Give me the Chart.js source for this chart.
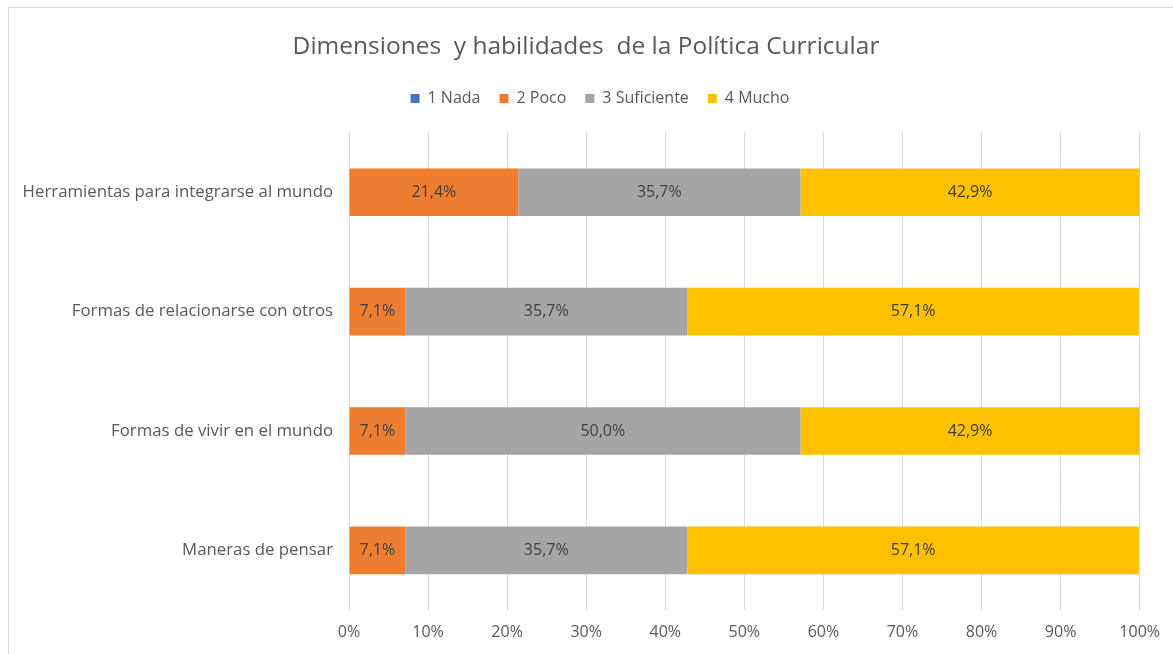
<!DOCTYPE html>
<html>
<head>
<meta charset="utf-8">
<script src="https://cdn.jsdelivr.net/npm/chart.js@4.4.1/dist/chart.umd.min.js"></script>
<style>
    html, body { margin: 0; padding: 0; background: #fff; overflow: hidden; }
    .frame {
        position: absolute; left: 8px; top: 7px; width: 1300px; height: 800px;
        border: 1px solid #d9d9d9; box-sizing: border-box;
    }
    .wrap { position: absolute; left: 0; top: 0; width: 1173px; height: 654px; }
</style>
</head>
<body>
<div class="frame"></div>
<div class="wrap"><canvas id="chart"></canvas></div>
<script>
// Chart data
const categories = [
    'Herramientas para integrarse al mundo',
    'Formas de relacionarse con otros',
    'Formas de vivir en el mundo',
    'Maneras de pensar'
];
const nada = [0, 0, 0, 0];
const poco = [21.4, 7.1, 7.1, 7.1];
const suficiente = [35.7, 35.7, 50.0, 35.7];
const mucho = [42.9, 57.1, 42.9, 57.1];
const xTicks = [0, 10, 20, 30, 40, 50, 60, 70, 80, 90, 100];

const textColor = '#595959';
const fontFamily = '"Open Sans", Lato, sans-serif';

// Value labels inside the bars
const barLabels = {
    id: 'barLabels',
    afterDatasetsDraw(chart) {
        const ctx = chart.ctx;
        ctx.save();
        ctx.font = '16px ' + fontFamily;
        ctx.fillStyle = '#404040';
        ctx.textAlign = 'center';
        ctx.textBaseline = 'middle';
        chart.data.datasets.forEach((ds, i) => {
            const meta = chart.getDatasetMeta(i);
            meta.data.forEach((bar, j) => {
                const v = ds.data[j];
                if (!v) return;
                const cx = (bar.x + bar.base) / 2;
                ctx.fillText(v.toFixed(1).replace('.', ',') + '%', cx, bar.y);
            });
        });
        ctx.restore();
    }
};

// Legend sits a little right of the centre in the original
const legendShift = {
    id: 'legendShift',
    afterLayout(chart) {
        chart.legend.left += 14;
        chart.legend.right += 14;
    }
};

const ctx = document.getElementById('chart').getContext('2d');
new Chart(ctx, {
    type: 'bar',
    data: {
        labels: categories,
        datasets: [
            { label: '1 Nada', data: nada, backgroundColor: '#4472C4' },
            { label: '2 Poco', data: poco, backgroundColor: '#ED7D31' },
            { label: '3 Suficiente', data: suficiente, backgroundColor: '#A5A5A5' },
            { label: '4 Mucho', data: mucho, backgroundColor: '#FFC000' }
        ]
    },
    options: {
        indexAxis: 'y',
        responsive: true,
        maintainAspectRatio: false,
        animation: false,
        barPercentage: 0.6,
        categoryPercentage: 0.665,
        layout: { padding: { left: 16, right: 17, top: 0, bottom: 0 } },
        plugins: {
            title: {
                display: true,
                text: 'Dimensiones  y habilidades  de la Política Curricular',
                color: textColor,
                font: { family: fontFamily, size: 24.5, weight: 'normal' },
                padding: { top: 32, bottom: 10 }
            },
            // empty spacer between the legend and the plot
            subtitle: {
                display: true,
                text: ' ',
                weight: 500,
                font: { size: 1 },
                padding: { top: 0, bottom: 15 }
            },
            legend: {
                display: true,
                labels: {
                    color: textColor,
                    font: { family: fontFamily, size: 16 },
                    boxWidth: 9,
                    boxHeight: 9,
                    padding: 19
                }
            },
            tooltip: { enabled: false }
        },
        scales: {
            x: {
                stacked: true,
                min: 0,
                max: 100,
                afterBuildTicks: s => { s.ticks = xTicks.map(v => ({ value: v })); },
                afterFit: s => { s.height = 44; },
                grid: { color: '#d9d9d9', drawTicks: false },
                border: { display: false },
                ticks: {
                    color: textColor,
                    font: { family: fontFamily, size: 16 },
                    padding: 13,
                    callback: v => v + '%'
                }
            },
            y: {
                stacked: true,
                afterFit: s => { s.width = 333; },
                grid: { display: false },
                border: { display: false },
                ticks: {
                    color: textColor,
                    font: { family: fontFamily, size: 16.8 },
                    padding: 8
                }
            }
        }
    },
    plugins: [barLabels, legendShift]
});
</script>
</body>
</html>
